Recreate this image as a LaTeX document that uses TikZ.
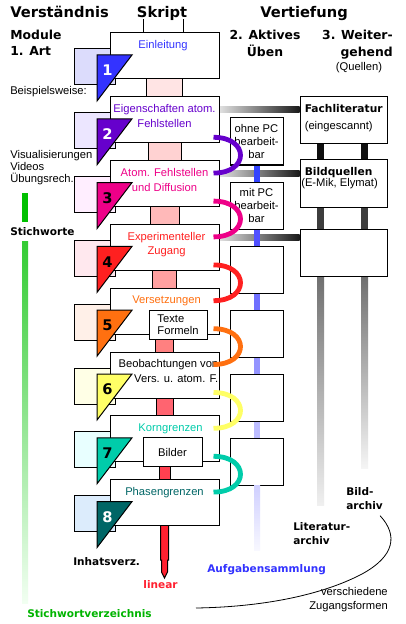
\documentclass[tikz,border=0pt]{standalone}
\usepackage{fontspec}
\setmainfont{Liberation Sans}
\newfontfamily\dejavu{DejaVu Sans}
\usetikzlibrary{calc,positioning}
\pgfdeclarelayer{back}
\pgfsetlayers{back,main}

\definecolor{sq1}{HTML}{DCDCFC}
\definecolor{sq2}{HTML}{ECE6FF}
\definecolor{sq3}{HTML}{FFEEFF}
\definecolor{sq4}{HTML}{FFE8EE}
\definecolor{sq5}{HTML}{FFF0E8}
\definecolor{sq6}{HTML}{FFFFE6}
\definecolor{sq7}{HTML}{E8FFFF}
\definecolor{sq8}{HTML}{DCECFC}
\definecolor{tr1}{HTML}{3333FF}
\definecolor{tr2}{HTML}{6600CC}
\definecolor{tr3}{HTML}{EE0088}
\definecolor{tr4}{HTML}{FF2020}
\definecolor{tr5}{HTML}{FF7010}
\definecolor{tr6}{HTML}{FFFF66}
\definecolor{tr7}{HTML}{00CCAA}
\definecolor{tr8}{HTML}{006666}
\definecolor{st1}{HTML}{FFE4E4}
\definecolor{st2}{HTML}{FFD2D2}
\definecolor{st3}{HTML}{FFB9B9}
\definecolor{st4}{HTML}{FFA0A0}
\definecolor{st5}{HTML}{FF8080}
\definecolor{st6}{HTML}{FF6470}
\definecolor{st7}{HTML}{FF4050}
\definecolor{lin}{HTML}{FF2030}
\definecolor{bl1}{HTML}{3344FF}
\definecolor{bl2}{HTML}{5050FF}
\definecolor{bl3}{HTML}{7070FF}
\definecolor{bl4}{HTML}{9494FF}
\definecolor{bl5}{HTML}{BCBCFF}
\definecolor{bl6}{HTML}{D0D0FF}
\definecolor{bl7}{HTML}{F8F8FF}
\definecolor{aufg}{HTML}{3333FF}
\definecolor{gruen}{HTML}{00C000}
\definecolor{gruenhell}{HTML}{33CC33}
\definecolor{gruenweiss}{HTML}{F2FFF2}
\definecolor{gruentext}{HTML}{00B400}
\definecolor{grauhell}{HTML}{E0E0E0}
\definecolor{grau}{HTML}{1A1A1A}

\tikzset{
  every node/.style={inner sep=0pt},
  rand/.style={line width=0.75pt},
  txt/.style={font=\fontsize{8.4}{10.9}\selectfont},
  kopf/.style={font=\dejavu\bfseries\fontsize{11}{13}\selectfont},
  unterkopf/.style={font=\dejavu\bfseries\fontsize{9.3}{#1}\selectfont},
  unterkopf/.default=12pt,
  marke/.style={font=\dejavu\bfseries\fontsize{7.9}{10.5}\selectfont},
  skbox/.style={draw, fill=white, rand, minimum width=81.75pt, minimum height=34.5pt},
  abox/.style={draw, fill=white, rand, minimum width=39.75pt, minimum height=35.25pt,
    align=center, font=\fontsize{8.4}{9.8}\selectfont},
  bbox/.style={draw, fill=white, rand, minimum width=65.25pt, minimum height=35.25pt},
  inbox/.style={draw, fill=white, rand, minimum width=#1, minimum height=21.75pt,
    align=left, font=\fontsize{8.4}{9}\selectfont},
  bogen/.style={line width=3.6pt}
}

\begin{document}
\begin{tikzpicture}[x=0.75pt,y=-0.75pt]
\useasboundingbox (0,0) rectangle (405,624);
\begin{pgfonlayer}{back}
  \fill[white] (0,0) rectangle (405,624);
  % Module (Quadrate)
  \foreach \k in {1,...,8} {
    \pgfmathsetmacro\t{49+63.8*(\k-1)}
    \filldraw[fill=sq\k, rand] (74,\t) rectangle (115,\t+36);
  }
\end{pgfonlayer}

% Ueberschriften
\node[kopf, anchor=base west] (verst) at (10,18) {Verständnis};
\node[kopf, anchor=base] (skript) at (162,18) {Skript};
\node[kopf, anchor=base west] (vert) at (260,18) {Vertiefung};
\node[unterkopf, anchor=north west, align=left] (modul) at (10,29.6) {Module\\1. Art};
\node[unterkopf=12.75pt, anchor=north, align=center] (aktiv) at (265,29.6) {2. Aktives\\Üben};
\node[unterkopf=12.5pt, anchor=north east, align=right] (weiter) at (393,30) {3. Weiter-\\gehend};
\node[txt, anchor=base] (quellen) at (359,71) {(Quellen)};

% linke Spalte
\node[txt, anchor=base west] (bsp) at (10,95) {Beispielsweise:};
\node[txt, anchor=north west, align=left, font=\fontsize{8.4}{9}\selectfont] (vis) at (10,150)
  {Visualisierungen\\Videos\\Übungsrech.};
\node[marke, anchor=base west] (stw) at (10,235) {Stichworte};
\node[marke, anchor=base west] (inh) at (73,565) {Inhatsverz.};
\node[marke, anchor=base west, text=gruentext] (stv) at (27,617) {Stichwortverzeichnis};
\fill[gruen] ($(vis.south west)+(12,8)$) rectangle ($(stw.north west)+(18,-5)$);
\shade[top color=gruenhell, bottom color=gruenweiss] ($(stw.south west)+(12,6)$)
  rectangle ($(stw.south west |- stv.north)+(18,-5)$);

% Skript
\foreach \k in {1,...,8}
  \node[skbox] (s\k) at (164.5,{56+63.8*(\k-1)}) {};
\draw[rand] ($(s1.north)+(-21.5,0)$) -- ++(0,-13) ($(s1.north)+(19,0)$) -- ++(0,-13);

\node[txt, text=tr1, anchor=north] at ($(s1.north)+(-1.5,8)$) {Einleitung};
\node[txt, text=tr2, anchor=north, align=center] at ($(s2.north)+(0,8)$) {Eigenschaften atom.\\Fehlstellen};
\node[txt, text=tr3, anchor=north, align=center] at ($(s3.north)+(0,8)$) {Atom. Fehlstellen\\und Diffusion};
\node[txt, text=tr4, anchor=north, align=center] at ($(s4.north)+(2,8)$) {Experimenteller\\Zugang};
\node[txt, text=tr5, anchor=north] at ($(s5.north)+(2,8)$) {Versetzungen};
\node[txt, anchor=north east, align=right] at ($(s6.north east)+(-1,8)$) {Beobachtungen von\\Vers. u. atom. F.};
\node[txt, text=tr7, anchor=north] at ($(s7.north)+(6,8)$) {Korngrenzen};
\node[txt, text=tr8, anchor=north] at ($(s8.north)+(0,8)$) {Phasengrenzen};

\node[inbox=43.5pt, anchor=north west] (tf) at ($(s5.north west)+(39,22)$) {Texte\\Formeln};
\node[inbox=44.25pt, anchor=north west] (bi) at ($(s7.north west)+(33,22)$) {Bilder};

\begin{pgfonlayer}{back}
  \foreach \oben/\unten/\w/\c in {s1/s2/18/st1, s2/s3/16.5/st2, s3/s4/14.5/st3, s4/s5/12/st4,
      tf/s6/9/st5, s6/s7/8.5/st6, bi/s8/5.5/st7} {
    \fill[\c] ($(\unten.north)+(-\w,0)$) rectangle ($(\unten.north |- \oben.south)+(\w,0)$);
    \draw[rand] ($(\unten.north)+(-\w,0)$) -- ($(\unten.north |- \oben.south)+(-\w,0)$)
                ($(\unten.north)+(\w,0)$) -- ($(\unten.north |- \oben.south)+(\w,0)$);
  }
  \filldraw[fill=lin, rand] ($(s8.south)+(-4,0)$) -- ++(0,34) -- ++(1,0) -- ++(0,12)
    -- ++(3,6) coordinate (spitze) -- ++(3,-6) -- ++(0,-12) -- ++(1,0) -- ++(0,-34);
\end{pgfonlayer}
\node[marke, text=lin, below=1.5pt of spitze, xshift=-3pt] (linear) {linear};

% Module (Dreiecke)
\foreach \k/\nc in {1/white,2/white,3/black,4/black,5/black,6/black,7/black,8/white} {
  \pgfmathsetmacro\t{49+63.8*(\k-1)}
  \filldraw[fill=tr\k, rand] (97,\t+6) -- (132,\t+6) -- (97,\t+52) -- cycle;
  \node[kopf, text=\nc] (n\k) at (107.5,\t+21.5) {\k};
}

% Aktives Ueben
\node[abox] (a1) at (256.5,141.5) {ohne PC\\bearbeit-\\bar};
\node[abox] (a2) at (256.5,205.5) {mit PC\\bearbeit-\\bar};
\foreach \k in {3,...,6}
  \node[abox] (a\k) at (256.5,{141.5+64*(\k-1)}) {};

% Weitergehend
\node[bbox] (b1) at (343.5,120) {};
\node[bbox] (b2) at (343.5,183.5) {};
\node[bbox] (b3) at (343.5,253) {};
\node[marke, font=\dejavu\bfseries\fontsize{8}{10}\selectfont, anchor=north west] at ($(b1.north west)+(5,8)$) {Fachliteratur};
\node[txt, anchor=north west] at ($(b1.north west)+(5,25.5)$) {(eingescannt)};
\node[marke, font=\dejavu\bfseries\fontsize{8}{10}\selectfont, anchor=north west] at ($(b2.north west)+(5,8)$) {Bildquellen};
\node[txt, anchor=north west] at ($(b2.north west)+(1.5,19)$) {(E-Mik, Elymat)};

\begin{pgfonlayer}{back}
  \foreach \s/\b in {s2/b1, s3/b2, s4/b3}
    \shade[left color=grauhell, right color=grau] ($(\s.north east)+(0,10.5)$)
      rectangle ($(\b.west |- \s.north)+(0,16.5)$);
  \foreach \oben/\unten/\c in {b1/b2/black!94, b2/b3/black!76} {
    \fill[\c] ($(\oben.south)+(-26.5,0)$) rectangle ($(\unten.north)+(-19.5,0)$);
    \fill[\c] ($(\oben.south)+(17.5,0)$) rectangle ($(\unten.north)+(24.5,0)$);
  }
  \shade[top color=black!56, bottom color=black!6] ($(b3.south)+(-26.5,0)$) rectangle ($(b3.south)+(-19.5,228)$);
  \shade[top color=black!56, bottom color=black!4] ($(b3.south)+(17.5,0)$) rectangle ($(b3.south)+(24.5,191)$);
\end{pgfonlayer}

% blaue Linie
\foreach \oben/\unten/\c in {a1/a2/bl1, a2/a3/bl2, a3/a4/bl3, a4/a5/bl4, a5/a6/bl5}
  \fill[\c] ($(\oben.south)+(-2.5,0)$) rectangle ($(\unten.north)+(3.5,0)$);
\shade[top color=bl6, bottom color=bl7] ($(a6.south)+(-2.5,0)$) rectangle ($(a6.south)+(3.5,65)$);
\node[marke, text=aufg, anchor=base west] (aufgabe) at (207,572) {Aufgabensammlung};

% Boegen
\foreach \k in {2,...,7} {
  \pgfmathtruncatemacro\n{\k+1}
  \draw[bogen, tr\k] ($(s\k.south east)+(-6,-6)$) .. controls +(36,0) and +(36,0) .. ($(s\n.north east)+(-6,13)$);
}

% Archive
\node[marke, anchor=north west, align=left] (bild) at (346,487) {Bild-\\archiv};
\node[marke, anchor=north west, align=left] (litarch) at (293,522) {Literatur-\\archiv};
\coordinate (zende) at (196,608);
\draw[line width=0.6pt] ($(bild.south east)+(-3,6)$) .. controls (398,535) and (395,556) .. (362,574)
  .. controls (320,596) and (260,607) .. (zende);
\node[txt, anchor=north east, align=right, font=\fontsize{8.4}{10.5}\selectfont] (zugang) at (388,587)
  {verschiedene\\Zugangsformen};
\end{tikzpicture}
\end{document}
